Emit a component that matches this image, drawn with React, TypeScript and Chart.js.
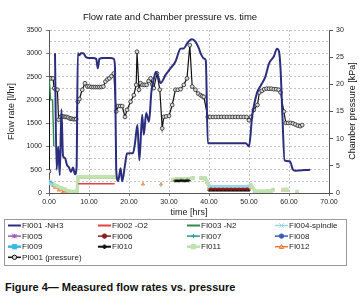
import React, { useEffect, useRef } from 'react';
import { Chart, registerables } from 'chart.js';

Chart.register(...registerables);

const chartTitle = 'Flow rate and Chamber pressure vs. time';
const xAxisTitle = 'time [hrs]';
const yAxisTitle = 'Flow rate [l/hr]';
const y2AxisTitle = 'Chamber pressure [kPa]';
const captionText = 'Figure 4\u2014 Measured flow rates vs. pressure';

const xTicks = [0, 10, 20, 30, 40, 50, 60, 70];
const yTicks = [0, 500, 1000, 1500, 2000, 2500, 3000, 3500];
const y2Ticks = [0, 5, 10, 15, 20, 25, 30];

const seriesNames = [
  'FI001 -NH3', 'FI002 -O2', 'FI003 -N2', 'FI004-spindle',
  'FI005', 'FI006', 'FI007', 'FI008',
  'FI009', 'FI010', 'FI011', 'FI012',
  'PI001 (pressure)',
];

// FI001 -NH3
const nh3Time = [1.5,1.9,2.3,2.7,3.1,3.5,4.0,4.5,5.0,5.5,6.0,6.5,6.9,7.2,7.6,8.0,8.6,9.2,10.0,11.0,11.8,12.2,12.6,13.5,14.5,15.5,16.2,16.5,16.8,17.3,17.9,18.3,19.0,19.5,21.0,21.5,22.1,22.6,23.3,23.7,24.3,25.0,25.6,26.2,26.7,27.3,27.9,29.1,30.4,31.6,32.9,33.7,34.5,35.2,35.8,36.6,37.5,37.9,38.7,39.2,39.7,44.0,49.2,50.0,50.8,52.0,52.9,54.1,55.0,56.2,57.0,57.5,57.9,58.3,58.9,60.2,61.0,61.5,65.3];
const nh3Flow = [3000,500,1000,380,1800,800,750,600,550,450,550,400,550,3000,2960,3000,3000,2920,2900,2900,2880,2680,2880,2900,2900,2900,2880,2700,500,260,530,250,600,850,860,1070,1460,700,1680,1250,1720,1530,2175,2450,2600,2500,2360,2530,2680,2820,3100,3105,3210,3280,3300,3250,3100,3000,2890,2850,1070,1070,1070,1000,1650,2150,2300,2500,2780,2930,3100,3040,2640,1780,700,680,500,480,500];

// FI002 -O2
const o2Time = [7.3, 16.4];
const o2Flow = [200, 200];

// FI003 -N2
const n2Time = [0.1, 0.4, 0.9, 1.2];
const n2Flow = [2420, 2000, 2000, 1000];

// FI004-spindle
const fi004Time = [0, 0.5, 1.0, 1.4, 28.0, 28.1, 40.0, 41.0, 42.0, 43.0, 44.0, 45.0, 46.0, 47.0, 48.0, 49.0, 50.0];
const fi004Flow = [210, 190, 170, null, 150, null, 150, 145, 145, 145, 145, 145, 145, 145, 145, 145, 150];

// FI005, FI007, FI008 (not visible in the plot)
const fi005Time: number[] = [];
const fi005Flow: number[] = [];
const fi007Time: number[] = [];
const fi007Flow: number[] = [];
const fi008Time: number[] = [];
const fi008Flow: number[] = [];

// FI006
const fi006Time = [40.5, 41.5, 42.5, 43.5, 44.5, 45.5, 46.5, 47.5, 48.5, 49.5];
const fi006Flow = [90, 90, 90, 90, 90, 90, 90, 90, 90, 90];

// FI009
const fi009Time = [0, 0.3, 0.6];
const fi009Flow = [225, 215, 200];

// FI010
const fi010Time = [31.5, 32.0, 32.5, 33.0, 33.5, 34.0, 34.5, 35.0, 35.2, 40.0, 40.5, 41.0, 41.5, 42.0, 42.5, 43.0, 43.5, 44.0, 44.5, 45.0, 45.5, 46.0, 46.5, 47.0, 47.5, 48.0, 48.5, 49.0, 49.5, 50.0];
const fi010Flow = [260, 265, 260, 270, 265, 260, 270, 265, null, 60, 60, 60, 60, 60, 60, 60, 60, 60, 60, 60, 60, 60, 60, 60, 60, 60, 60, 60, 60, 60];

// FI011
const fi011Time = [0, 1.0, 2.0, 3.0, 4.0, 5.0, 6.0, 7.0, 7.3, 8.3, 9.3, 10.3, 11.3, 12.3, 13.3, 14.3, 15.3, 16.3, 16.6, 31.0, 32.0, 33.0, 34.0, 35.0, 36.0, 36.5, 38.0, 39.0, 39.5, 40.0, 41.0, 42.0, 43.0, 44.0, 45.0, 46.0, 47.0, 48.0, 49.0, 50.0, 50.5, 51.5, 52.5, 53.5, 54.5, 55.5, 56.0, 56.5, 58.5, 59.5, 60.0, 62.0];
const fi011Flow = [240, 190, 150, 110, 80, 40, 30, 30, 345, 345, 345, 345, 345, 345, 345, 345, 345, 345, null, 290, 300, 300, 305, 305, 320, null, 330, 320, 250, 140, 135, 135, 135, 135, 135, 135, 135, 135, 135, 140, 170, 40, 35, 35, 40, 45, 70, null, 75, 75, null, 30];

// FI012
const fi012Time = [0,0.5,1.0,1.5,2.0,2.5,3.0,3.5,4.0,4.5,5.0,5.5,6.0,6.5,7.0,7.3,7.8,8.3,8.8,9.3,9.8,10.3,10.8,11.3,11.8,12.3,12.8,13.3,13.8,14.3,14.8,15.3,15.8,16.3,16.6,23.5,23.6,28.0,28.1,31.0,31.5,32.0,32.5,33.0,33.5,34.0,34.5,35.0,35.5,36.0,36.5,38.0,38.5,39.0,39.5,40.0,40.5,41.0,41.5,42.0,42.5,43.0,43.5,44.0,44.5,45.0,45.5,46.0,46.5,47.0,47.5,48.0,48.5,49.0,49.5,50.0,50.5,51.0,51.5,52.0,52.5,53.0,53.5,54.0,54.5,55.0,55.5,56.0,56.5,58.5,59.0,59.5,60.0,62.0];
const fi012Flow = [250,230,160,120,130,60,90,20,60,10,0,0,0,10,0,330,330,330,330,330,330,330,330,330,330,330,330,330,330,330,330,330,330,330,null,190,null,190,null,270,290,280,300,290,300,290,300,300,310,320,null,320,320,300,230,110,100,100,100,100,100,100,100,100,100,100,100,100,100,100,100,100,100,100,100,100,170,110,30,20,20,20,20,20,30,30,40,70,null,60,70,60,null,20];

// PI001 (pressure) on the right axis
const presTime = [0,0.1,0.5,1.0,1.3,1.7,2.1,2.4,2.8,3.2,3.6,4.0,4.4,4.8,5.2,5.6,6.0,6.4,6.8,7.2,7.6,8.3,9.0,9.6,10.1,10.6,11.1,11.6,12.1,12.6,13.1,13.6,14.1,14.6,15.1,15.6,16.2,16.8,17.3,17.8,18.3,19.0,19.5,20.4,21.2,21.8,22.0,22.5,22.9,23.4,23.9,24.4,24.9,25.4,25.8,26.2,27.0,27.7,28.3,28.7,29.3,30.0,30.8,31.6,32.2,32.9,33.7,34.5,35.2,35.8,36.6,37.3,37.9,38.3,38.7,39.7,40.3,41.0,41.7,42.4,43.1,43.8,44.5,45.2,45.9,46.6,47.3,48.0,48.7,49.4,50.0,50.5,51.2,52.1,52.6,53.2,53.8,54.4,55.0,55.6,56.2,56.8,57.4,57.9,58.7,59.2,59.8,60.4,61.0,61.6,62.2,62.8,63.3];
const presKpa = [4.0,21.1,21.1,21.1,19.3,19.0,19.0,13.5,14.0,14.1,14.1,14.0,14.0,13.9,13.7,13.7,13.6,13.6,13.6,16.8,17.3,19.0,20.2,19.6,19.6,19.5,19.5,19.5,19.5,19.5,19.5,19.6,20.5,20.9,21.1,21.5,22.0,15.0,16.0,16.0,16.0,14.0,15.3,16.8,18.0,19.9,26.0,19.0,20.2,19.9,19.9,19.9,20.6,21.1,20.0,19.3,22.0,19.0,11.9,14.0,14.1,14.2,16.2,19.0,19.0,19.1,19.9,21.1,27.2,19.6,19.0,18.3,18.0,17.8,17.7,14.0,14.0,14.0,14.0,14.0,14.0,14.0,14.0,14.0,14.0,14.0,14.0,14.0,14.0,14.0,13.4,14.0,15.3,16.2,18.5,18.8,19.1,19.2,19.2,19.2,19.1,19.1,19.0,18.5,15.0,12.9,12.9,12.9,12.8,12.6,12.4,12.3,12.5];

const FONT = '"Liberation Sans", Arial, sans-serif';

const pts = (t: number[], v: (number | null)[]) => t.map((x, i) => ({ x, y: v[i] }));

function drawMarker(ctx: CanvasRenderingContext2D, style: string, x: number, y: number, r: number, stroke: string, fill: string) {
  ctx.save();
  ctx.strokeStyle = stroke;
  ctx.fillStyle = fill;
  ctx.lineWidth = 1;
  ctx.beginPath();
  switch (style) {
    case 'circle':
      ctx.arc(x, y, r, 0, Math.PI * 2);
      ctx.fill();
      ctx.stroke();
      break;
    case 'triangle':
      ctx.moveTo(x, y - r);
      ctx.lineTo(x + r, y + r * 0.8);
      ctx.lineTo(x - r, y + r * 0.8);
      ctx.closePath();
      ctx.fill();
      ctx.stroke();
      break;
    case 'rect':
      ctx.rect(x - r, y - r, 2 * r, 2 * r);
      ctx.fill();
      ctx.stroke();
      break;
    case 'cross':
      ctx.moveTo(x - r, y); ctx.lineTo(x + r, y);
      ctx.moveTo(x, y - r); ctx.lineTo(x, y + r);
      ctx.stroke();
      break;
    case 'crossRot':
      ctx.moveTo(x - r, y - r); ctx.lineTo(x + r, y + r);
      ctx.moveTo(x - r, y + r); ctx.lineTo(x + r, y - r);
      ctx.stroke();
      break;
    case 'star':
      ctx.moveTo(x - r, y); ctx.lineTo(x + r, y);
      ctx.moveTo(x, y - r); ctx.lineTo(x, y + r);
      ctx.moveTo(x - r, y - r); ctx.lineTo(x + r, y + r);
      ctx.moveTo(x - r, y + r); ctx.lineTo(x + r, y - r);
      ctx.stroke();
      break;
    case 'dash':
      ctx.lineWidth = 2;
      ctx.moveTo(x - r, y); ctx.lineTo(x + r, y);
      ctx.moveTo(x, y - r); ctx.lineTo(x, y + r);
      ctx.stroke();
      break;
    default:
      break;
  }
  ctx.restore();
}

const decorPlugin = {
  id: 'decor',
  afterDraw(chart: any) {
    const ctx: CanvasRenderingContext2D = chart.ctx;
    ctx.save();
    // chart title
    ctx.fillStyle = '#111';
    ctx.font = `9.5px ${FONT}`;
    ctx.textAlign = 'center';
    ctx.textBaseline = 'middle';
    ctx.fillText(chartTitle, 170, 17);
    // right axis title (reads bottom to top)
    ctx.save();
    ctx.translate(353, 111);
    ctx.rotate(-Math.PI / 2);
    ctx.font = `9px ${FONT}`;
    ctx.fillText(y2AxisTitle, 0, 0);
    ctx.restore();
    // legend box
    ctx.strokeStyle = '#9a9a9a';
    ctx.lineWidth = 1;
    ctx.strokeRect(4.5, 219.5, 342, 46);
    const colX = [8, 98, 187, 275];
    const rowY0 = 225.5;
    const rowH = 10.6;
    ctx.font = `8px ${FONT}`;
    ctx.textAlign = 'left';
    ctx.textBaseline = 'middle';
    chart.data.datasets.forEach((ds: any, i: number) => {
      const cx = colX[i % 4];
      const cy = rowY0 + Math.floor(i / 4) * rowH;
      ctx.save();
      ctx.strokeStyle = ds.borderColor;
      ctx.lineWidth = ds.legendWidth || 1.5;
      ctx.beginPath();
      ctx.moveTo(cx, cy);
      ctx.lineTo(cx + 13, cy);
      ctx.stroke();
      ctx.restore();
      if (ds.legendMarker) {
        drawMarker(ctx, ds.legendMarker, cx + 6.5, cy, 2.2, ds.pointBorderColor || ds.borderColor, ds.pointBackgroundColor || ds.borderColor);
      }
      ctx.fillStyle = '#222';
      ctx.fillText(ds.label, cx + 14, cy + 0.5);
    });
    ctx.restore();
  },
};

export default function App() {
  const ref = useRef<HTMLCanvasElement | null>(null);

  useEffect(() => {
    document.body.style.margin = '0';
    const canvas = ref.current;
    if (!canvas) return;
    const small = (name: string, t: number[], v: (number | null)[], color: string, marker: string, extra: any = {}) => ({
      label: name,
      data: pts(t, v),
      borderColor: color,
      backgroundColor: color,
      borderWidth: 1.2,
      pointStyle: marker === 'dash' ? 'cross' : marker,
      pointRadius: 1.8,
      pointBorderWidth: 0.8,
      pointBorderColor: color,
      pointBackgroundColor: color,
      legendMarker: marker,
      yAxisID: 'y',
      spanGaps: false,
      ...extra,
    });

    const datasets: any[] = [
      {
        label: seriesNames[0],
        data: pts(nh3Time, nh3Flow),
        borderColor: '#2b2e7e',
        backgroundColor: '#2b2e7e',
        borderWidth: 2,
        pointRadius: 0,
        cubicInterpolationMode: 'monotone',
        legendWidth: 2,
        yAxisID: 'y',
      },
      {
        label: seriesNames[1],
        data: pts(o2Time, o2Flow),
        borderColor: '#e0443c',
        backgroundColor: '#e0443c',
        borderWidth: 1.6,
        pointRadius: 0,
        legendWidth: 2,
        yAxisID: 'y',
      },
      {
        label: seriesNames[2],
        data: pts(n2Time, n2Flow),
        borderColor: '#2f8a4c',
        backgroundColor: '#2f8a4c',
        borderWidth: 1.4,
        pointRadius: 0,
        legendWidth: 2,
        yAxisID: 'y',
      },
      small(seriesNames[3], fi004Time, fi004Flow, '#9bd6ea', 'crossRot', { borderWidth: 2.5 }),
      small(seriesNames[4], fi005Time, fi005Flow, '#a054b8', 'star'),
      small(seriesNames[5], fi006Time, fi006Flow, '#8e1c1c', 'circle', { pointRadius: 1.5 }),
      small(seriesNames[6], fi007Time, fi007Flow, '#2b9c8c', 'cross'),
      small(seriesNames[7], fi008Time, fi008Flow, '#3b5cb8', 'circle', { pointRadius: 1 }),
      small(seriesNames[8], fi009Time, fi009Flow, '#3bb8e6', 'rect', { borderWidth: 2.5, legendWidth: 2.5 }),
      small(seriesNames[9], fi010Time, fi010Flow, '#111111', 'dash', { borderWidth: 2, legendWidth: 2 }),
      small(seriesNames[10], fi011Time, fi011Flow, '#bfe3b0', 'rect', { borderWidth: 3.5, pointRadius: 2, legendWidth: 2.5 }),
      small(seriesNames[11], fi012Time, fi012Flow, '#ef7a35', 'triangle', { pointRadius: 1.8, pointBackgroundColor: '#f6b48a' }),
      {
        label: seriesNames[12],
        data: pts(presTime, presKpa),
        borderColor: '#111111',
        backgroundColor: '#111111',
        borderWidth: 1.2,
        pointStyle: 'circle',
        pointRadius: 1.9,
        pointBorderWidth: 0.7,
        pointBorderColor: '#111111',
        pointBackgroundColor: '#d8d8d8',
        legendMarker: 'circle',
        yAxisID: 'y2',
      },
    ];

    const tickFont = { family: FONT, size: 7 };
    const chart = new Chart(canvas, {
      type: 'line',
      data: { datasets },
      plugins: [decorPlugin],
      options: {
        animation: false,
        responsive: false,
        maintainAspectRatio: false,
        layout: { padding: { top: 30, left: 0, right: 0, bottom: 272 - 218.4 } },
        plugins: {
          legend: { display: false },
          title: { display: false },
          tooltip: { enabled: false },
        },
        elements: { line: { tension: 0 } },
        scales: {
          x: {
            type: 'linear',
            min: xTicks[0],
            max: xTicks[xTicks.length - 1],
            afterBuildTicks: (s: any) => { s.ticks = xTicks.map((v) => ({ value: v })); },
            afterFit: (s: any) => { s.height = 25.4; },
            ticks: {
              font: tickFont,
              color: '#222',
              padding: 2,
              maxRotation: 0,
              autoSkip: false,
              callback: (v: any) => Number(v).toFixed(2),
            },
            grid: { color: '#b5b5b5', lineWidth: 0.8, tickLength: 3, tickColor: '#555' },
            border: { color: '#555', width: 1, dash: [2, 2] },
            title: { display: true, text: xAxisTitle, font: { family: FONT, size: 9 }, color: '#222', padding: { top: 0, bottom: 0 } },
          },
          y: {
            position: 'left',
            min: 0,
            max: 3500,
            ticks: {
              stepSize: 250,
              font: tickFont,
              color: '#222',
              padding: 4,
              autoSkip: false,
              callback: (v: any) => (Number(v) % 500 === 0 ? String(v) : ''),
            },
            afterFit: (s: any) => { s.width = 49; },
            grid: {
              color: '#b5b5b5',
              lineWidth: 0.8,
              tickLength: 3,
              tickColor: (c: any) => (c.tick && c.tick.value % 500 === 0 ? '#555' : 'rgba(0,0,0,0)'),
            },
            border: { color: '#555', width: 1, dash: [2, 2] },
            title: { display: true, text: yAxisTitle, font: { family: FONT, size: 9 }, color: '#222', padding: { top: 6.5, bottom: 0 } },
          },
          y2: {
            position: 'right',
            min: y2Ticks[0],
            max: y2Ticks[y2Ticks.length - 1],
            afterBuildTicks: (s: any) => { s.ticks = y2Ticks.map((v) => ({ value: v })); },
            afterFit: (s: any) => { s.width = 35; },
            ticks: { font: tickFont, color: '#222', padding: 3, autoSkip: false },
            grid: { drawOnChartArea: false, tickLength: 4, tickColor: '#555', color: '#555' },
            border: { color: '#555', width: 1 },
          },
        },
      } as any,
    });
    return () => chart.destroy();
  }, []);

  return (
    <div style={{ position: 'relative', width: 364, height: 302, background: '#fff', overflow: 'hidden' }}>
      <canvas ref={ref} width={364} height={272} style={{ width: 364, height: 272, display: 'block' }} />
      <div
        style={{
          position: 'absolute',
          left: 5,
          top: 280,
          fontFamily: FONT,
          fontWeight: 'bold',
          fontSize: 11,
          color: '#111',
          whiteSpace: 'nowrap',
          lineHeight: '14px',
        }}
      >
        {captionText}
      </div>
    </div>
  );
}
